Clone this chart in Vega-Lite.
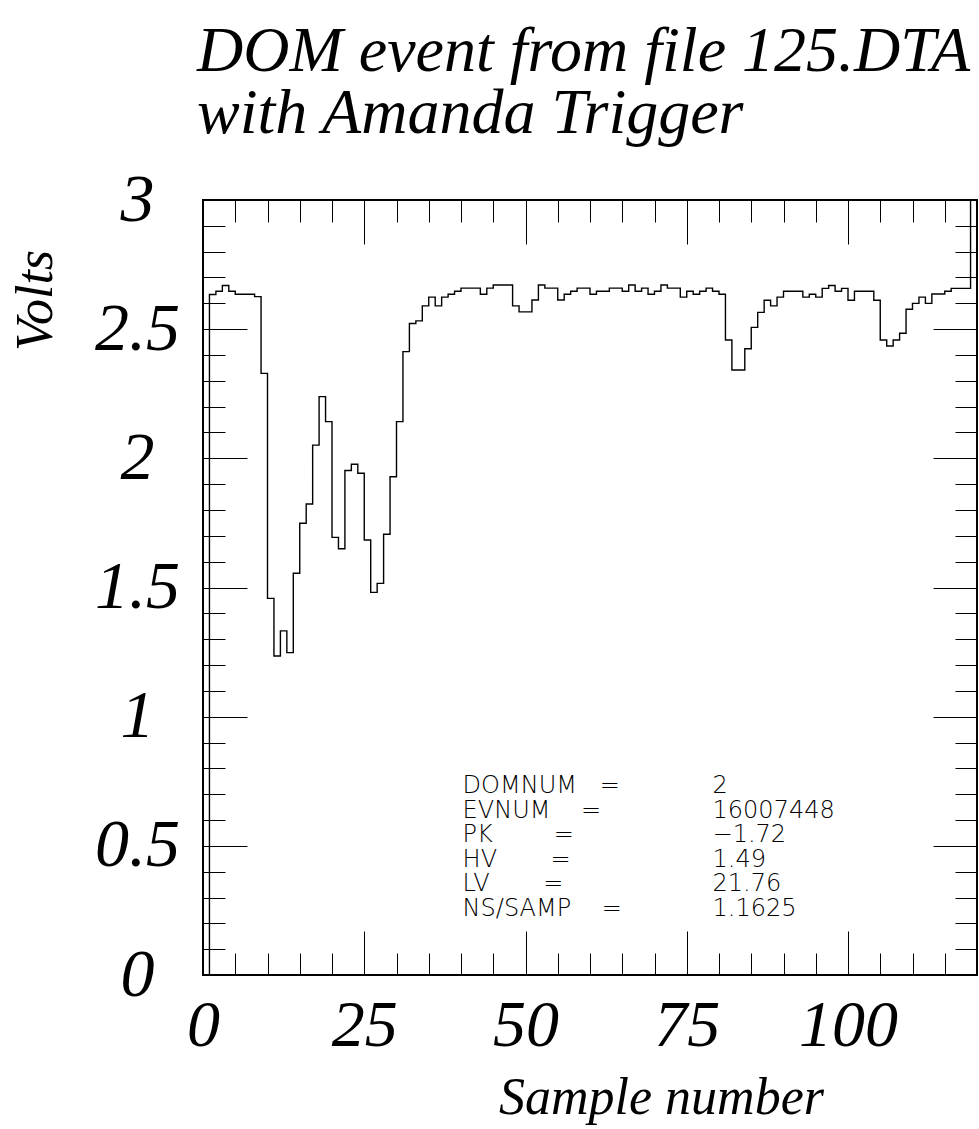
{
  "$schema": "https://vega.github.io/schema/vega-lite/v6.json",
  "width": 774,
  "height": 775,
  "autosize": "none",
  "padding": {"left": 203, "top": 200, "right": 2, "bottom": 154},
  "background": "white",
  "config": {"view": {"stroke": "black", "strokeWidth": 2}},
  "title": {
    "text": ["DOM event from file 125.DTA", "with Amanda Trigger"],
    "anchor": "start",
    "frame": "group",
    "orient": "top",
    "font": "Liberation Serif",
    "fontStyle": "italic",
    "fontWeight": "normal",
    "fontSize": 64,
    "lineHeight": 62,
    "color": "black",
    "offset": 20,
    "dx": -6
  },
  "data": {"values": [
    {"sample": 0, "v": 0}, {"sample": 1, "v": 2.634}, {"sample": 2, "v": 2.647}, {"sample": 3, "v": 2.669},
    {"sample": 4, "v": 2.647}, {"sample": 5, "v": 2.635}, {"sample": 6, "v": 2.635}, {"sample": 7, "v": 2.635},
    {"sample": 8, "v": 2.626}, {"sample": 9, "v": 2.329}, {"sample": 10, "v": 1.458}, {"sample": 11, "v": 1.235},
    {"sample": 12, "v": 1.332}, {"sample": 13, "v": 1.248}, {"sample": 14, "v": 1.555}, {"sample": 15, "v": 1.749},
    {"sample": 16, "v": 1.823}, {"sample": 17, "v": 2.051}, {"sample": 18, "v": 2.239}, {"sample": 19, "v": 2.142},
    {"sample": 20, "v": 1.694}, {"sample": 21, "v": 1.650}, {"sample": 22, "v": 1.953}, {"sample": 23, "v": 1.977},
    {"sample": 24, "v": 1.942}, {"sample": 25, "v": 1.684}, {"sample": 26, "v": 1.481}, {"sample": 27, "v": 1.516},
    {"sample": 28, "v": 1.706}, {"sample": 29, "v": 1.929}, {"sample": 30, "v": 2.142}, {"sample": 31, "v": 2.413},
    {"sample": 32, "v": 2.522}, {"sample": 33, "v": 2.532}, {"sample": 34, "v": 2.590}, {"sample": 35, "v": 2.624},
    {"sample": 36, "v": 2.590}, {"sample": 37, "v": 2.624}, {"sample": 38, "v": 2.635}, {"sample": 39, "v": 2.647},
    {"sample": 40, "v": 2.659}, {"sample": 41, "v": 2.659}, {"sample": 42, "v": 2.659}, {"sample": 43, "v": 2.635},
    {"sample": 44, "v": 2.659}, {"sample": 45, "v": 2.671}, {"sample": 46, "v": 2.671}, {"sample": 47, "v": 2.671},
    {"sample": 48, "v": 2.590}, {"sample": 49, "v": 2.567}, {"sample": 50, "v": 2.567}, {"sample": 51, "v": 2.613},
    {"sample": 52, "v": 2.671}, {"sample": 53, "v": 2.659}, {"sample": 54, "v": 2.659}, {"sample": 55, "v": 2.613},
    {"sample": 56, "v": 2.635}, {"sample": 57, "v": 2.647}, {"sample": 58, "v": 2.659}, {"sample": 59, "v": 2.659},
    {"sample": 60, "v": 2.635}, {"sample": 61, "v": 2.647}, {"sample": 62, "v": 2.647}, {"sample": 63, "v": 2.659},
    {"sample": 64, "v": 2.659}, {"sample": 65, "v": 2.647}, {"sample": 66, "v": 2.671}, {"sample": 67, "v": 2.647},
    {"sample": 68, "v": 2.659}, {"sample": 69, "v": 2.635}, {"sample": 70, "v": 2.647}, {"sample": 71, "v": 2.671},
    {"sample": 72, "v": 2.659}, {"sample": 73, "v": 2.659}, {"sample": 74, "v": 2.624}, {"sample": 75, "v": 2.647},
    {"sample": 76, "v": 2.635}, {"sample": 77, "v": 2.647}, {"sample": 78, "v": 2.659}, {"sample": 79, "v": 2.647},
    {"sample": 80, "v": 2.635}, {"sample": 81, "v": 2.458}, {"sample": 82, "v": 2.342}, {"sample": 83, "v": 2.342},
    {"sample": 84, "v": 2.424}, {"sample": 85, "v": 2.507}, {"sample": 86, "v": 2.565}, {"sample": 87, "v": 2.612},
    {"sample": 88, "v": 2.590}, {"sample": 89, "v": 2.624}, {"sample": 90, "v": 2.647}, {"sample": 91, "v": 2.647},
    {"sample": 92, "v": 2.647}, {"sample": 93, "v": 2.624}, {"sample": 94, "v": 2.635}, {"sample": 95, "v": 2.624},
    {"sample": 96, "v": 2.658}, {"sample": 97, "v": 2.669}, {"sample": 98, "v": 2.647}, {"sample": 99, "v": 2.658},
    {"sample": 100, "v": 2.612}, {"sample": 101, "v": 2.647}, {"sample": 102, "v": 2.647}, {"sample": 103, "v": 2.647},
    {"sample": 104, "v": 2.612}, {"sample": 105, "v": 2.458}, {"sample": 106, "v": 2.435}, {"sample": 107, "v": 2.458},
    {"sample": 108, "v": 2.484}, {"sample": 109, "v": 2.577}, {"sample": 110, "v": 2.600}, {"sample": 111, "v": 2.624},
    {"sample": 112, "v": 2.600}, {"sample": 113, "v": 2.636}, {"sample": 114, "v": 2.636}, {"sample": 115, "v": 2.647},
    {"sample": 116, "v": 2.658}, {"sample": 117, "v": 2.658}, {"sample": 118, "v": 2.658}, {"sample": 119, "v": 3.0},
    {"sample": 120, "v": 3.0}
  ]},
  "resolve": {"axis": {"x": "independent", "y": "independent"}},
  "layer": [
    {
      "mark": {"type": "line", "interpolate": "step-after", "color": "black", "strokeWidth": 1.4, "clip": true},
      "encoding": {
        "x": {"field": "sample", "type": "quantitative",
          "scale": {"domain": [0, 120], "nice": false, "zero": false},
          "axis": {"orient": "bottom", "values": [0, 25, 50, 75, 100], "format": "d",
            "ticks": false, "domain": false, "grid": false,
            "labelFont": "Liberation Serif", "labelFontStyle": "italic", "labelFontSize": 66,
            "labelColor": "black", "labelPadding": 18, "labelFlush": false, "labelOverlap": false, "labelBound": false,
            "labelAlign": "center", "labelBaseline": "top",
            "title": "Sample number", "titleFont": "Liberation Serif", "titleFontStyle": "italic",
            "titleFontWeight": "normal", "titleFontSize": 52, "titleColor": "black",
            "titleX": 458, "titleY": 138, "titleAlign": "center", "titleBaseline": "alphabetic", "titleAngle": 0}},
        "y": {"field": "v", "type": "quantitative",
          "scale": {"domain": [0, 3], "nice": false, "zero": false},
          "axis": {"orient": "left", "values": [0, 0.5, 1, 1.5, 2, 2.5, 3], "format": "~r",
            "ticks": false, "domain": false, "grid": false,
            "labelFont": "Liberation Serif", "labelFontStyle": "italic", "labelFontSize": 68,
            "labelColor": "black", "labelPadding": 66, "labelFlush": false, "labelOverlap": false, "labelBound": false,
            "labelAlign": "center", "labelBaseline": "middle",
            "title": "Volts", "titleFont": "Liberation Serif", "titleFontStyle": "italic",
            "titleFontWeight": "normal", "titleFontSize": 52, "titleColor": "black",
            "titleX": -168, "titleY": 100, "titleAlign": "center", "titleBaseline": "middle", "titleAngle": -90}}
      }
    },
    {
      "mark": {"type": "line", "opacity": 0},
      "encoding": {
        "x": {"field": "sample", "type": "quantitative",
          "scale": {"domain": [0, 120], "nice": false, "zero": false},
          "axis": {"orient": "bottom", "values": [25, 50, 75, 100], "labels": false, "ticks": true,
            "tickSize": -44, "tickColor": "black", "tickWidth": 1, "domain": false, "grid": false, "title": null}},
        "y": {"field": "v", "type": "quantitative",
          "scale": {"domain": [0, 3], "nice": false, "zero": false},
          "axis": {"orient": "left", "values": [0.5, 1, 1.5, 2, 2.5], "labels": false, "ticks": true,
            "tickSize": -44, "tickColor": "black", "tickWidth": 1, "domain": false, "grid": false, "title": null}}
      }
    },
    {
      "mark": {"type": "line", "opacity": 0},
      "encoding": {
        "x": {"field": "sample", "type": "quantitative",
          "scale": {"domain": [0, 120], "nice": false, "zero": false},
          "axis": {"orient": "bottom", "values": [5, 10, 15, 20, 30, 35, 40, 45, 55, 60, 65, 70, 80, 85, 90, 95, 105, 110, 115],
            "labels": false, "ticks": true,
            "tickSize": -22, "tickColor": "black", "tickWidth": 1, "domain": false, "grid": false, "title": null}},
        "y": {"field": "v", "type": "quantitative",
          "scale": {"domain": [0, 3], "nice": false, "zero": false},
          "axis": {"orient": "left", "values": [0.1, 0.2, 0.3, 0.4, 0.6, 0.7, 0.8, 0.9, 1.1, 1.2, 1.3, 1.4, 1.6, 1.7, 1.8, 1.9, 2.1, 2.2, 2.3, 2.4, 2.6, 2.7, 2.8, 2.9],
            "labels": false, "ticks": true,
            "tickSize": -22, "tickColor": "black", "tickWidth": 1, "domain": false, "grid": false, "title": null}}
      }
    },
    {
      "mark": {"type": "line", "opacity": 0},
      "encoding": {
        "x": {"field": "sample", "type": "quantitative",
          "scale": {"domain": [0, 120], "nice": false, "zero": false},
          "axis": {"orient": "top", "values": [25, 50, 75, 100], "labels": false, "ticks": true,
            "tickSize": -44, "tickColor": "black", "tickWidth": 1, "domain": false, "grid": false, "title": null}},
        "y": {"field": "v", "type": "quantitative",
          "scale": {"domain": [0, 3], "nice": false, "zero": false},
          "axis": {"orient": "right", "values": [0.5, 1, 1.5, 2, 2.5], "labels": false, "ticks": true,
            "tickSize": -44, "tickColor": "black", "tickWidth": 1, "domain": false, "grid": false, "title": null}}
      }
    },
    {
      "mark": {"type": "line", "opacity": 0},
      "encoding": {
        "x": {"field": "sample", "type": "quantitative",
          "scale": {"domain": [0, 120], "nice": false, "zero": false},
          "axis": {"orient": "top", "values": [5, 10, 15, 20, 30, 35, 40, 45, 55, 60, 65, 70, 80, 85, 90, 95, 105, 110, 115],
            "labels": false, "ticks": true,
            "tickSize": -22, "tickColor": "black", "tickWidth": 1, "domain": false, "grid": false, "title": null}},
        "y": {"field": "v", "type": "quantitative",
          "scale": {"domain": [0, 3], "nice": false, "zero": false},
          "axis": {"orient": "right", "values": [0.1, 0.2, 0.3, 0.4, 0.6, 0.7, 0.8, 0.9, 1.1, 1.2, 1.3, 1.4, 1.6, 1.7, 1.8, 1.9, 2.1, 2.2, 2.3, 2.4, 2.6, 2.7, 2.8, 2.9],
            "labels": false, "ticks": true,
            "tickSize": -22, "tickColor": "black", "tickWidth": 1, "domain": false, "grid": false, "title": null}}
      }
    },
    {
      "data": {"values": [{"block": "labels"}]},
      "mark": {"type": "text", "font": "DejaVu Sans", "fontWeight": 200, "fontSize": 24, "lineHeight": 24.6,
        "align": "left", "baseline": "alphabetic", "color": "black"},
      "encoding": {
        "x": {"datum": 40.25, "type": "quantitative", "scale": {"domain": [0, 120], "nice": false, "zero": false}, "axis": null},
        "y": {"datum": 0.7046, "type": "quantitative", "scale": {"domain": [0, 3], "nice": false, "zero": false}, "axis": null},
        "text": {"value": ["DOMNUM\u00a0\u00a0\u00a0=", "EVNUM\u00a0\u00a0\u00a0\u00a0=", "PK\u00a0\u00a0\u00a0\u00a0\u00a0\u00a0\u00a0\u00a0=", "HV\u00a0\u00a0\u00a0\u00a0\u00a0\u00a0\u00a0=", "LV\u00a0\u00a0\u00a0\u00a0\u00a0\u00a0\u00a0=", "NS/SAMP\u00a0\u00a0\u00a0\u00a0="]}
      }
    },
    {
      "data": {"values": [{"block": "values"}]},
      "mark": {"type": "text", "font": "DejaVu Sans", "fontWeight": 200, "fontSize": 24, "lineHeight": 24.6,
        "align": "left", "baseline": "alphabetic", "color": "black"},
      "encoding": {
        "x": {"datum": 79, "type": "quantitative", "scale": {"domain": [0, 120], "nice": false, "zero": false}, "axis": null},
        "y": {"datum": 0.7046, "type": "quantitative", "scale": {"domain": [0, 3], "nice": false, "zero": false}, "axis": null},
        "text": {"value": ["2", "16007448", "\u22121.72", "1.49", "21.76", "1.1625"]}
      }
    }
  ]
}
